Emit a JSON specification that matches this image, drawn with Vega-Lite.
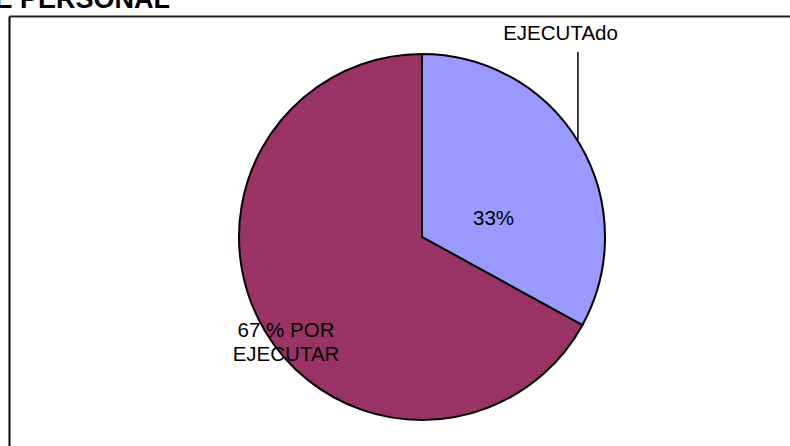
{
  "$schema": "https://vega.github.io/schema/vega-lite/v6.json",
  "width": 781,
  "height": 430,
  "autosize": {"type": "none"},
  "padding": {"left": 9, "top": 16, "right": 0, "bottom": 0},
  "background": "white",
  "config": {"view": {"stroke": null}, "font": "Liberation Sans"},
  "title": {
    "text": "DE PERSONAL",
    "anchor": "start",
    "frame": "group",
    "font": "Liberation Sans",
    "fontSize": 27,
    "fontWeight": "bold",
    "color": "#000",
    "baseline": "alphabetic",
    "offset": 0,
    "dx": -34,
    "dy": 19
  },
  "datasets": {
    "sectores": [
      {"estado": "EJECUTADO", "pct": 33},
      {"estado": "POR EJECUTAR", "pct": 67}
    ],
    "etiquetas": [
      {"texto": "33%", "x": 0.391, "y": 0.101},
      {"texto": "EJECUTAdo", "x": 0.757, "y": 1.109},
      {"texto": "67 % POR\nEJECUTAR", "x": -0.743, "y": -0.513}
    ],
    "guia": [
      {"x": 0.852, "y1": 1.011, "y2": 0.53}
    ]
  },
  "layer": [
    {
      "data": {"name": "sectores"},
      "mark": {"type": "arc", "radius": 183, "stroke": "#000", "strokeWidth": 2},
      "encoding": {
        "theta": {"field": "pct", "type": "quantitative"},
        "color": {
          "field": "estado",
          "type": "nominal",
          "scale": {"domain": ["EJECUTADO", "POR EJECUTAR"], "range": ["#9999FF", "#993366"]},
          "legend": null
        },
        "x": {"datum": 0, "type": "quantitative",
          "scale": {"domain": [-2.2568, 2.0109], "zero": false, "nice": false},
          "axis": {"orient": "top", "title": null, "labels": false, "ticks": false, "grid": false, "domainColor": "#222", "domainWidth": 2}},
        "y": {"datum": 0, "type": "quantitative",
          "scale": {"domain": [-1.1421, 1.2077], "zero": false, "nice": false},
          "axis": {"orient": "left", "title": null, "labels": false, "ticks": false, "grid": false, "domainColor": "#000", "domainWidth": 2}}
      }
    },
    {
      "data": {"name": "guia"},
      "mark": {"type": "rule", "stroke": "#000", "strokeWidth": 1.5},
      "encoding": {
        "x": {"field": "x", "type": "quantitative",
          "scale": {"domain": [-2.2568, 2.0109], "zero": false, "nice": false},
          "axis": {"orient": "top", "title": null, "labels": false, "ticks": false, "grid": false, "domainColor": "#222", "domainWidth": 2}},
        "y": {"field": "y1", "type": "quantitative",
          "scale": {"domain": [-1.1421, 1.2077], "zero": false, "nice": false},
          "axis": {"orient": "left", "title": null, "labels": false, "ticks": false, "grid": false, "domainColor": "#000", "domainWidth": 2}},
        "y2": {"field": "y2"}
      }
    },
    {
      "data": {"name": "etiquetas"},
      "mark": {"type": "text", "fontSize": 20.5, "lineBreak": "\n", "lineHeight": 24, "baseline": "middle", "align": "center", "color": "#000", "font": "Liberation Sans"},
      "encoding": {
        "x": {"field": "x", "type": "quantitative",
          "scale": {"domain": [-2.2568, 2.0109], "zero": false, "nice": false},
          "axis": {"orient": "top", "title": null, "labels": false, "ticks": false, "grid": false, "domainColor": "#222", "domainWidth": 2}},
        "y": {"field": "y", "type": "quantitative",
          "scale": {"domain": [-1.1421, 1.2077], "zero": false, "nice": false},
          "axis": {"orient": "left", "title": null, "labels": false, "ticks": false, "grid": false, "domainColor": "#000", "domainWidth": 2}},
        "text": {"field": "texto", "type": "nominal"}
      }
    }
  ]
}
